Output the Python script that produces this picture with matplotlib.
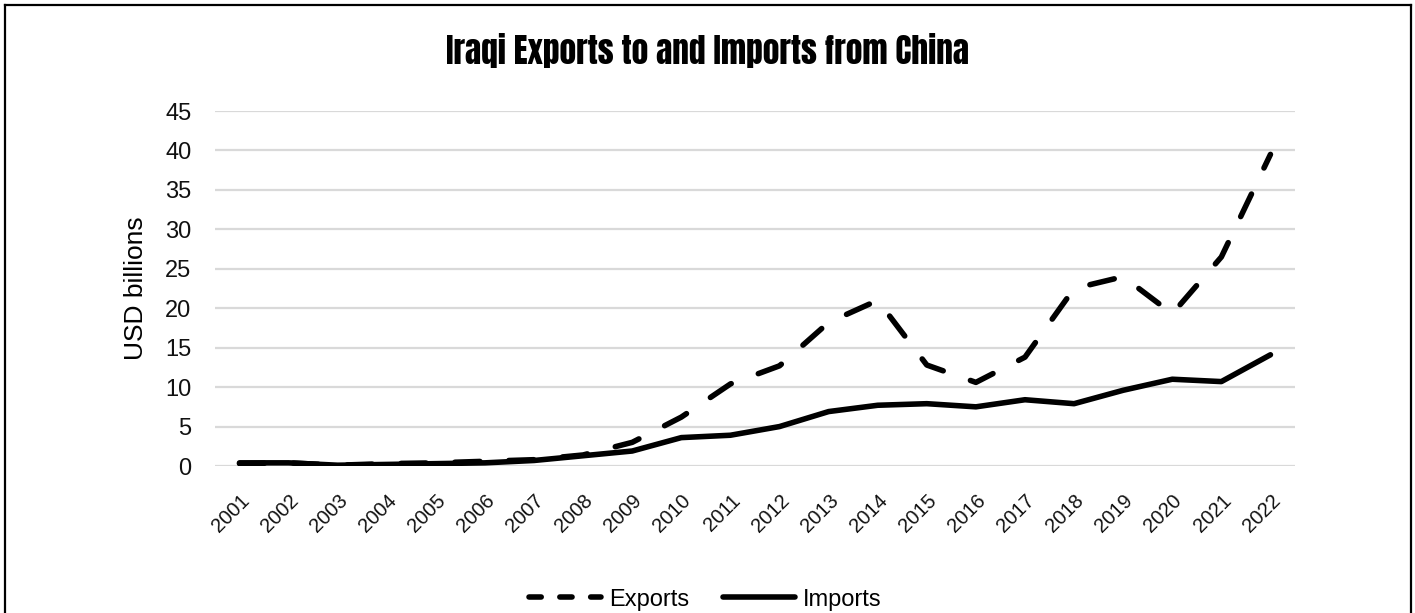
import matplotlib
matplotlib.use("Agg")
import matplotlib.pyplot as plt
import matplotlib.transforms as mtransforms
from matplotlib.lines import Line2D
from matplotlib import font_manager

years = [str(y) for y in range(2001, 2023)]
exports = [0.3, 0.4, 0.1, 0.3, 0.4, 0.6, 0.8, 1.4, 3.0, 6.2, 10.4, 12.7,
           18.2, 21.0, 12.8, 10.6, 13.8, 22.5, 24.0, 19.3, 26.5, 39.5]
imports = [0.4, 0.4, 0.1, 0.2, 0.3, 0.4, 0.7, 1.3, 1.9, 3.6, 3.9, 5.0,
           6.9, 7.7, 7.9, 7.5, 8.4, 7.9, 9.6, 11.0, 10.7, 14.1]

# pick a narrow heavy face for the heading if one is around
names = {f.name for f in font_manager.fontManager.ttflist}
title_font = "DejaVu Sans"
for cand in ["Anton", "Oswald", "Bebas Neue", "Roboto Condensed",
             "Liberation Sans Narrow", "DejaVu Sans Condensed", "Open Sans Condensed"]:
    if cand in names:
        title_font = cand
        break
plt.rcParams["font.family"] = ["Liberation Sans", "DejaVu Sans"]

LW = 4.0
fig = plt.figure(figsize=(14.15, 6.13), dpi=100)
ax = fig.add_axes([0.1519, 0.2398, 0.7633, 0.5791])

x = list(range(len(years)))
ax.plot(x, exports, color="black", lw=LW, dashes=(4.5, 5.2),
        dash_capstyle="round", dash_joinstyle="round")
ax.plot(x, imports, color="black", lw=LW, solid_capstyle="round",
        solid_joinstyle="round")

ax.set_xlim(-0.5, len(years) - 0.5)
ax.set_ylim(0, 45)
ax.set_yticks(range(0, 46, 5))
ax.yaxis.grid(True, color="#d9d9d9", lw=1.6)
ax.set_axisbelow(True)
for s in ax.spines.values():
    s.set_visible(False)
ax.tick_params(length=0)
ax.tick_params(axis="y", labelsize=17, pad=17, labelcolor="#111111")

ax.set_xticks(x)
ax.set_xticklabels(years, fontsize=14.5, rotation=45, ha="right",
                   rotation_mode="anchor", color="#111111")
shift = mtransforms.ScaledTranslation(5 / 100, 0, fig.dpi_scale_trans)
for lbl in ax.get_xticklabels():
    lbl.set_transform(lbl.get_transform() + shift)
ax.tick_params(axis="x", pad=18)

ax.set_ylabel("USD billions", fontsize=19, labelpad=12)

fig.text(0.5, 0.918, "Iraqi Exports to and Imports from China",
         ha="center", va="center", fontsize=24, fontweight="bold",
         family=[title_font, "DejaVu Sans"], fontstretch="condensed")

# legend keys use the shorter dash of the original key
h_exp = Line2D([], [], color="black", lw=LW, dashes=(2.2, 3.35),
               dash_capstyle="round")
h_imp = Line2D([], [], color="black", lw=LW, solid_capstyle="round")
fig.legend([h_exp, h_imp], ["Exports", "Imports"], loc="center",
           bbox_to_anchor=(0.4986, 0.022), ncol=2, frameon=False,
           fontsize=17, handlelength=3.05, handletextpad=0.35, columnspacing=1.4)

# frame around the chart (bottom edge falls outside the canvas)
W, H = 1415, 613
for xs, ys in [([4.5, 4.5], [-5, H - 4.5]), ([4.5, W - 4.5], [H - 4.5, H - 4.5]),
               ([W - 4.5, W - 4.5], [H - 4.5, -5])]:
    fig.add_artist(Line2D([v / W for v in xs], [v / H for v in ys],
                          transform=fig.transFigure, color="black", lw=1.6))

fig.savefig("out.png", dpi=100)
